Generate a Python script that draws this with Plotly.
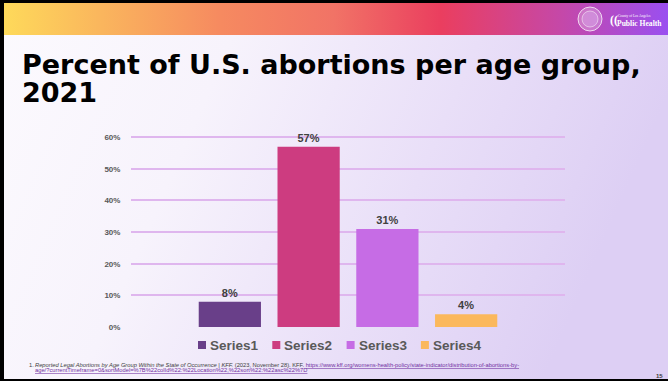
import base64
import plotly.graph_objects as go

# ---- data ----
series_names = ["Series1", "Series2", "Series3", "Series4"]
series_values = [8, 57, 31, 4]
series_colors = ["#693f89", "#cd3c80", "#c66ce5", "#fbb85c"]
category = ["Age group"]
y_ticks = [0, 10, 20, 30, 40, 50, 60]
y_tick_labels = [f"{v}%" for v in y_ticks]
y_max = 61

title_lines = ["Percent of U.S. abortions per age group,", "2021"]
footnote_title = "Reported Legal Abortions by Age Group Within the State of Occurrence | KFF."
footnote_rest = "(2023, November 28). KFF."
footnote_url_1 = "https://www.kff.org/womens-health-policy/state-indicator/distribution-of-abortions-by-"
footnote_url_2 = "age/?currentTimeframe=0&sortModel=%7B%22colId%22:%22Location%22,%22sort%22:%22asc%22%7D"
page_number = "15"

# ---- page geometry (pixels) ----
W, H = 668, 381
L, R, B = 131, 103, 54
PH = round(190 * y_max / 60)
T = H - B - PH
PW = W - L - R


def px(x):
    return (x - L) / PW


def py(y):
    return (H - B - y) / PH


# ---- slide background (gradients and frame) as an SVG ----
svg = f"""<svg xmlns='http://www.w3.org/2000/svg' width='{W}' height='{H}' viewBox='0 0 {W} {H}'>
<defs>
<linearGradient id='bg' x1='0' y1='0' x2='1' y2='0.25'>
<stop offset='0' stop-color='#fcfafe'/>
<stop offset='0.35' stop-color='#f7f3fc'/>
<stop offset='0.7' stop-color='#e9dff8'/>
<stop offset='1' stop-color='#ddcff4'/>
</linearGradient>
<linearGradient id='bar' x1='0' y1='0' x2='1' y2='0'>
<stop offset='0' stop-color='#fedb5a'/>
<stop offset='0.15' stop-color='#fab65d'/>
<stop offset='0.33' stop-color='#f68a60'/>
<stop offset='0.5' stop-color='#f17366'/>
<stop offset='0.66' stop-color='#ea3e5f'/>
<stop offset='0.84' stop-color='#c548a8'/>
<stop offset='1' stop-color='#9a4ff0'/>
</linearGradient>
</defs>
<rect x='0' y='0' width='{W}' height='{H}' fill='url(#bg)'/>
<rect x='0' y='3' width='{W}' height='32' fill='url(#bar)'/>
<rect x='0' y='0' width='{W}' height='3' fill='#000'/>
<rect x='0' y='0' width='4' height='{H}' fill='#000'/>
<rect x='0' y='{H - 2}' width='{W}' height='2' fill='#000'/>
</svg>"""
svg_uri = "data:image/svg+xml;base64," + base64.b64encode(svg.encode()).decode()

fig = go.Figure()
for name, val, col in zip(series_names, series_values, series_colors):
    fig.add_trace(go.Bar(
        name=name, x=category, y=[val], marker=dict(color=col, line=dict(width=0)),
        text=[f"{val}%"], textposition="outside", cliponaxis=False,
        textfont=dict(family="Liberation Sans", size=11, color="#404040", weight="bold"),
        showlegend=False,
    ))

fig.add_layout_image(dict(
    source=svg_uri, xref="paper", yref="paper", x=px(0), y=py(0),
    sizex=W / PW, sizey=H / PH, sizing="stretch", xanchor="left", yanchor="top",
    layer="below",
))


def note(text, x, y, xanchor="left", yanchor="middle", **font):
    return dict(text=text, xref="paper", yref="paper", x=px(x), y=py(y),
                xanchor=xanchor, yanchor=yanchor, align="left", showarrow=False,
                font=font)


title_font = dict(family="DejaVu Sans", size=27, color="#000000", weight="bold")
foot_font = dict(family="Liberation Sans", size=5.75, color="#404040")
link = "<span style='color:#7030a0'><u>{}</u></span>"

annotations = [
    note(title_lines[0], 20, 47, yanchor="top", **title_font),
    note(title_lines[1], 20, 75, yanchor="top", **title_font),
    note("1.", 27, 364.5, **foot_font),
    note(f"<i>{footnote_title}</i> {footnote_rest} " + link.format(footnote_url_1),
         33, 364.5, **foot_font),
    note(link.format(footnote_url_2), 33, 370.3, **foot_font),
    note(page_number, 665, 376, xanchor="right",
         family="Liberation Sans", size=6, color="#404040", weight="bold"),
    # department logo lettering
    note("((", 608, 20, family="Liberation Sans Narrow", size=12, color="#ffffff", weight="bold"),
    note("County of Los Angeles", 616, 16, family="Liberation Sans Narrow", size=3.5,
         color="#ffffff"),
    note("Public Health", 615, 23.5, family="Liberation Sans Narrow", size=7.6,
         color="#ffffff", weight="bold"),
]

shapes = [
    # county seal
    dict(type="circle", xref="paper", yref="paper", x0=px(578), x1=px(602), y0=py(7), y1=py(31),
         line=dict(color="rgba(255,255,255,0.75)", width=1), fillcolor="rgba(255,255,255,0.25)",
         layer="above"),
    dict(type="circle", xref="paper", yref="paper", x0=px(582), x1=px(598), y0=py(11), y1=py(27),
         line=dict(color="rgba(255,255,255,0.6)", width=0.8), fillcolor="rgba(220,180,240,0.35)",
         layer="above"),
]

# legend row under the plot: small colour square followed by the series name
legend_left, legend_step, legend_y = 198, 74.3, 345
for i, (name, col) in enumerate(zip(series_names, series_colors)):
    x0 = legend_left + i * legend_step
    shapes.append(dict(type="rect", xref="paper", yref="paper",
                       x0=px(x0), x1=px(x0 + 8), y0=py(legend_y - 4), y1=py(legend_y + 4),
                       line=dict(width=0), fillcolor=col, layer="above"))
    annotations.append(note(name, x0 + 10, legend_y, family="Liberation Sans", size=13.5,
                            color="#595959", weight="bold"))

fig.update_layout(
    width=W, height=H, autosize=False,
    margin=dict(l=L, r=R, t=T, b=B, pad=0),
    paper_bgcolor="rgba(0,0,0,0)", plot_bgcolor="rgba(0,0,0,0)",
    barmode="group", bargap=0.274, bargroupgap=0.21,
    showlegend=False,
    xaxis=dict(range=[-0.5, 0.5], showticklabels=False, showgrid=False, zeroline=False,
               showline=False, fixedrange=True),
    yaxis=dict(range=[0, y_max], tickvals=y_ticks, ticktext=y_tick_labels, showgrid=True,
               gridcolor="#dfb6ee", gridwidth=1.5, zeroline=False, showline=False,
               ticks="outside", ticklen=8, tickcolor="rgba(0,0,0,0)",
               tickfont=dict(family="Liberation Sans", size=8, color="#595959", weight="bold")),
    annotations=annotations, shapes=shapes,
    font=dict(family="Liberation Sans"),
)

fig.write_html("out.html")
